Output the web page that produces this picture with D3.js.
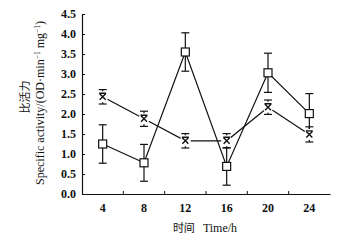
<!DOCTYPE html>
<html>
<head>
<meta charset="utf-8">
<script src="https://cdn.jsdelivr.net/npm/d3@7"></script>
<style>
  body { margin: 0; background: #fff; }
  svg text { font-family: "Liberation Serif", "DejaVu Serif", serif; fill: #111; }
</style>
</head>
<body>
<div id="chart"></div>
<script>
// time points (h)
var hours = ["4", "8", "12", "16", "20", "24"];
// square series: mean and error
var squareVals = [1.25, 0.78, 3.55, 0.69, 3.03, 2.01];
var squareErr  = [0.48, 0.46, 0.48, 0.47, 0.49, 0.50];
// cross series: mean and error
var crossVals = [2.43, 1.88, 1.33, 1.33, 2.17, 1.49];
var crossErr  = [0.18, 0.19, 0.18, 0.18, 0.18, 0.19];
var yTicks = [0, 0.5, 1.0, 1.5, 2.0, 2.5, 3.0, 3.5, 4.0, 4.5];

var W = 348, H = 247;
var margin = {top: 14, right: 18, bottom: 53, left: 82};
var width = W - margin.left - margin.right,
    height = H - margin.top - margin.bottom;

var svg = d3.select("#chart").append("svg")
    .attr("width", W).attr("height", H);
var g = svg.append("g")
    .attr("transform", "translate(" + margin.left + "," + margin.top + ")");

var x = d3.scaleBand().domain(hours).range([0, width]).padding(0);
var y = d3.scaleLinear().domain([0, 4.5]).range([height, 0]);
var cx = function(i) { return x(hours[i]) + x.bandwidth() / 2; };

// axes
var yAxis = g.append("g")
    .call(d3.axisLeft(y).tickValues(yTicks).tickFormat(d3.format(".1f")).tickSizeInner(-3).tickSizeOuter(0).tickPadding(6));
yAxis.select(".domain").attr("stroke", "#111").attr("stroke-width", 1.2);
yAxis.selectAll(".tick line").attr("stroke", "#111");
yAxis.selectAll("text").attr("font-size", 12).attr("font-weight", "bold");

var xAxis = g.append("g").attr("transform", "translate(0," + height + ")")
    .call(d3.axisBottom(x).tickSize(0).tickPadding(9));
xAxis.select(".domain").attr("stroke", "#111").attr("stroke-width", 1.2);
xAxis.selectAll("text").attr("font-size", 12).attr("font-weight", "bold");
// tick marks sit on band boundaries, pointing up
xAxis.selectAll(".bound").data(hours.slice(1)).enter().append("line")
    .attr("x1", function(d) { return x(d); }).attr("x2", function(d) { return x(d); })
    .attr("y1", 0).attr("y2", -3).attr("stroke", "#111");

// lines
var line = d3.line().x(function(d, i) { return cx(i); }).y(function(d) { return y(d); });
g.append("path").datum(squareVals).attr("d", line)
    .attr("fill", "none").attr("stroke", "#111").attr("stroke-width", 1.2);
g.append("path").datum(crossVals).attr("d", line)
    .attr("fill", "none").attr("stroke", "#111").attr("stroke-width", 1.2);

function errorBars(vals, errs) {
  var eb = g.append("g").selectAll("g").data(vals).enter().append("g");
  eb.append("line")
    .attr("x1", function(d, i) { return cx(i); }).attr("x2", function(d, i) { return cx(i); })
    .attr("y1", function(d, i) { return y(d + errs[i]); })
    .attr("y2", function(d, i) { return y(d - errs[i]); })
    .attr("stroke", "#111").attr("stroke-width", 1.2);
  [1, -1].forEach(function(s) {
    eb.append("line")
      .attr("x1", function(d, i) { return cx(i) - 4; }).attr("x2", function(d, i) { return cx(i) + 4; })
      .attr("y1", function(d, i) { return y(d + s * errs[i]); })
      .attr("y2", function(d, i) { return y(d + s * errs[i]); })
      .attr("stroke", "#111").attr("stroke-width", 1.2);
  });
}
errorBars(squareVals, squareErr);
errorBars(crossVals, crossErr);

// cross markers with white halo
var cm = g.append("g").selectAll("g").data(crossVals).enter().append("g")
    .attr("transform", function(d, i) { return "translate(" + cx(i) + "," + y(d) + ")"; });
cm.append("circle").attr("r", 5.5).attr("fill", "#fff");
cm.append("path").attr("d", "M-3,-3L3,3M3,-3L-3,3M-3.5,-3.5H3.5")
    .attr("stroke", "#111").attr("stroke-width", 1.4);

// square markers
g.append("g").selectAll("rect").data(squareVals).enter().append("rect")
    .attr("x", function(d, i) { return cx(i) - 4; })
    .attr("y", function(d) { return y(d) - 4; })
    .attr("width", 8).attr("height", 8)
    .attr("fill", "#fff").attr("stroke", "#111").attr("stroke-width", 1.2);

// axis titles
svg.append("text").attr("x", 205).attr("y", 232).attr("text-anchor", "middle")
  .attr("font-size", 12)
  .html('<tspan style="font-family:\'Noto Sans CJK SC\'" font-size="11">时间</tspan><tspan dx="8">Time/h</tspan>');

svg.append("text").attr("transform", "translate(29,97) rotate(-90)")
  .attr("text-anchor", "middle").attr("font-size", 11)
  .style("font-family", "'Noto Sans CJK SC'").text("比活力");

svg.append("text").attr("transform", "translate(44,103) rotate(-90)")
  .attr("text-anchor", "middle").attr("font-size", 12)
  .html('Specific activity/(OD·min<tspan baseline-shift="super" font-size="7.5">−1</tspan> mg<tspan baseline-shift="super" font-size="7.5">−1</tspan>)');
</script>
</body>
</html>
